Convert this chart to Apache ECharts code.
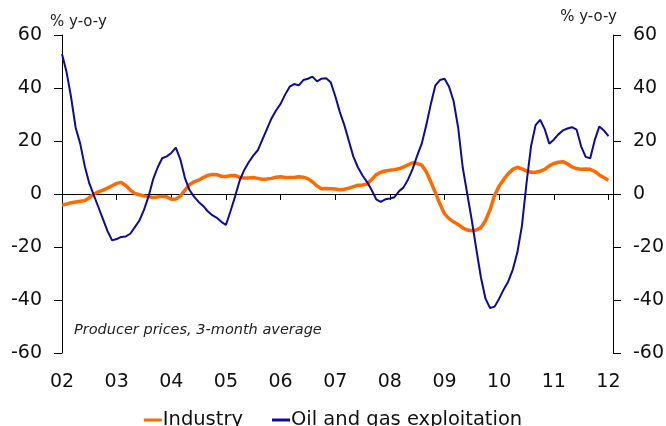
<!DOCTYPE html>
<html>
<head>
<meta charset="utf-8">
<script src="https://cdn.jsdelivr.net/npm/echarts@6/dist/echarts.min.js"></script>
<style>
  html, body { margin: 0; padding: 0; background: #fff; }
  #chart { width: 666px; height: 426px; }
</style>
</head>
<body>
<div id="chart"></div>
<script>
// monthly data, Jan 2002 .. Jan 2012 (index 0 = Jan 2002)
const yearLabels = ['02', '03', '04', '05', '06', '07', '08', '09', '10', '11', '12']

const industry = [
  -4.2, -3.8, -3.3, -3.0, -2.7, -2.5, -1.4, 0.0, 0.8, 1.5, 2.2, 3.1,
  4.0, 4.4, 3.2, 1.5, 0.2, -0.3, -0.7, -1.0, -1.3, -1.1, -0.9, -1.0,
  -2.0, -1.9, -0.8, 1.5, 3.5, 4.6, 5.2, 6.2, 7.0, 7.4, 7.3, 6.7,
  6.6, 6.9, 7.0, 6.3, 6.0, 6.0, 6.2, 5.9, 5.6, 5.7, 5.9, 6.3,
  6.5, 6.2, 6.2, 6.2, 6.5, 6.3, 5.8, 4.6, 3.0, 2.0, 2.1, 2.0,
  1.9, 1.6, 1.8, 2.2, 2.8, 3.3, 3.4, 3.8, 5.5, 7.3, 8.2, 8.7,
  9.0, 9.2, 9.5, 10.2, 11.0, 11.8, 11.5, 10.9, 8.4, 4.5, 0.5, -3.8,
  -7.5, -9.3, -10.5, -11.5, -12.8, -13.6, -13.9, -13.6, -12.7, -10.0, -6.0, -0.5,
  3.0, 5.5, 7.7, 9.3, 10.1, 9.5, 8.7, 8.2, 8.2, 8.6, 9.3, 10.6,
  11.5, 12.0, 12.2, 11.4, 10.2, 9.6, 9.3, 9.4, 9.3, 8.5, 7.2, 6.2,
  5.2
]

const oilGas = [
  52.8, 46.0, 36.5, 25.0, 19.0, 10.5, 4.0, -0.5, -5.0, -9.5, -14.0, -17.5,
  -17.0, -16.2, -16.0, -15.0, -12.5, -10.0, -6.0, -1.0, 5.5, 10.0, 13.5, 14.2,
  15.5, 17.5, 13.0, 6.0, 1.5, -1.0, -3.0, -4.5, -6.5, -8.0, -9.0, -10.5,
  -11.7, -6.5, -1.0, 5.0, 9.0, 12.0, 14.5, 16.5, 20.5, 24.5, 28.5, 31.5,
  34.0, 37.5, 40.5, 41.5, 41.0, 43.0, 43.5, 44.3, 42.5, 43.5, 43.7, 42.2,
  37.0, 31.0, 26.0, 20.0, 14.0, 10.0, 7.0, 4.5, 1.5, -2.0, -3.0, -2.0,
  -1.7, -1.2, 1.0, 2.5, 5.5, 9.5, 14.5, 19.0, 26.0, 34.0, 41.0, 43.0,
  43.5, 40.5, 35.0, 25.0, 10.0, 0.0, -10.0, -21.0, -31.5, -39.5, -43.0, -42.5,
  -39.5, -36.0, -33.0, -28.5, -22.0, -12.0, 4.0, 18.0, 26.0, 28.0, 24.5, 19.0,
  20.5, 22.5, 24.0, 24.7, 25.2, 24.3, 18.0, 14.0, 13.5, 20.4, 25.5, 24.0,
  21.8
]

const FONT = 'DejaVu Sans, Verdana, sans-serif'
const ORANGE = '#ff6a00'
const BLUE = '#0c0c99'

function toPoints(values) {
  return values.map((v, i) => [i, v])
}

function yAxisFor(position) {
  return {
    type: 'value',
    position,
    min: -60,
    max: 60,
    interval: 20,
    axisLine: { show: true, onZero: false, lineStyle: { color: '#000', width: 1 } },
    axisTick: { show: true, length: 8, lineStyle: { color: '#000' } },
    axisLabel: { fontFamily: FONT, fontSize: 19, color: '#111', margin: 20 },
    splitLine: { show: false }
  }
}

const chart = echarts.init(document.getElementById('chart'))

chart.setOption({
  animation: false,
  backgroundColor: '#fff',
  grid: { left: 62, right: 53, top: 35, bottom: 73, outerBoundsMode: 'none' },
  legend: {
    top: 405,
    left: 'center',
    itemGap: 29,
    itemWidth: 18,
    itemHeight: 3,
    icon: 'rect',
    textStyle: { fontFamily: FONT, fontSize: 19.5, color: '#111', padding: [0, 0, 0, -4] },
    data: ['Industry', 'Oil and gas exploitation']
  },
  xAxis: [
    {
      // zero line with year ticks
      type: 'value',
      min: 0,
      max: 121,
      interval: 12,
      axisLine: { onZero: true, lineStyle: { color: '#000', width: 1 } },
      axisTick: { show: true, length: 6, lineStyle: { color: '#000' } },
      axisLabel: { show: false },
      splitLine: { show: false }
    },
    {
      // year labels along the bottom
      type: 'value',
      position: 'bottom',
      min: 0,
      max: 121,
      interval: 12,
      axisLine: { show: false, onZero: false },
      axisTick: { show: false },
      axisLabel: {
        fontFamily: FONT,
        fontSize: 19,
        color: '#111',
        margin: 20,
        showMaxLabel: false,
        formatter: v => (v % 12 === 0 ? yearLabels[v / 12] : '')
      },
      splitLine: { show: false }
    }
  ],
  yAxis: [yAxisFor('left'), yAxisFor('right')],
  graphic: [
    {
      type: 'text',
      left: 50,
      top: 15,
      style: { text: '% y-o-y', font: '15px DejaVu Sans, Verdana, sans-serif', fill: '#222' }
    },
    {
      type: 'text',
      right: 49,
      top: 10,
      style: { text: '% y-o-y', font: '15px DejaVu Sans, Verdana, sans-serif', fill: '#222' }
    },
    {
      type: 'text',
      left: 74,
      top: 323,
      style: {
        text: 'Producer prices, 3-month average',
        font: 'italic 14.5px DejaVu Sans, Verdana, sans-serif',
        fill: '#222'
      }
    }
  ],
  series: [
    {
      name: 'Industry',
      type: 'line',
      data: toPoints(industry),
      symbol: 'none',
      lineStyle: { width: 3.5, color: ORANGE },
      itemStyle: { color: ORANGE },
      z: 2
    },
    {
      name: 'Oil and gas exploitation',
      type: 'line',
      data: toPoints(oilGas),
      symbol: 'none',
      lineStyle: { width: 2, color: BLUE },
      itemStyle: { color: BLUE },
      z: 3
    }
  ]
})
</script>
</body>
</html>
